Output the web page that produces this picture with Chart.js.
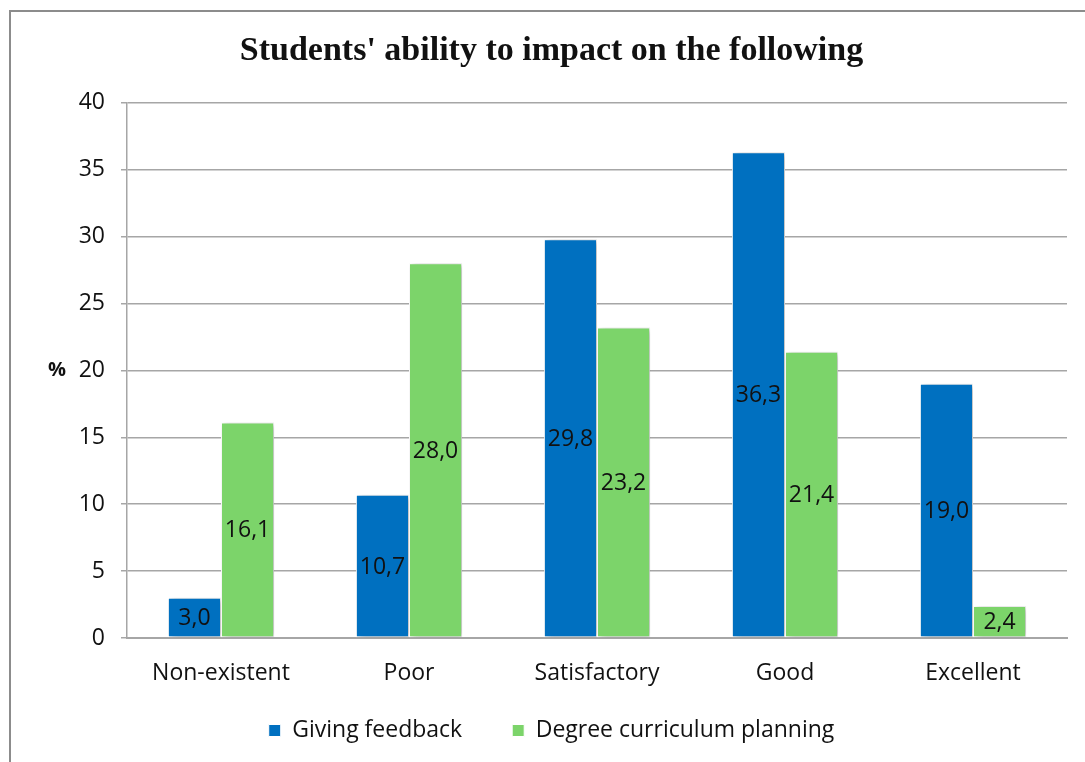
<!DOCTYPE html>
<html>
<head>
<meta charset="utf-8">
<script src="https://cdn.jsdelivr.net/npm/chart.js@4.4.1/dist/chart.umd.min.js"></script>
<style>
  html, body { margin: 0; padding: 0; background: #fff; overflow: hidden; }
  #wrap { position: relative; width: 1085px; height: 762px; overflow: hidden; }
  #frame { position: absolute; left: 9px; top: 10px; width: 1100px; height: 800px;
           border-left: 2px solid #8c8c8c; border-top: 2px solid #8c8c8c; }
  canvas { position: absolute; left: 0; top: 0; }
</style>
</head>
<body>
<div id="wrap">
  <div id="frame"></div>
  <canvas id="myChart" width="1085" height="762"></canvas>
</div>
<script>
// dados
const categorias = ['Non-existent', 'Poor', 'Satisfactory', 'Good', 'Excellent'];
const givingFeedback = [3.0, 10.7, 29.8, 36.3, 19.0];
const curriculumPlanning = [16.1, 28.0, 23.2, 21.4, 2.4];
const yTicks = [0, 5, 10, 15, 20, 25, 30, 35, 40];

const fonte = "'Open Sans', 'Liberation Sans', sans-serif";

// sombra nas barras
const sombra = {
    id: 'sombra',
    beforeDatasetsDraw(chart) {
        const c = chart.ctx;
        c.save();
        c.shadowColor = 'rgba(0,0,0,0.28)';
        c.shadowBlur = 6;
        c.shadowOffsetX = 3;
        c.shadowOffsetY = 1;
    },
    afterDatasetsDraw(chart) {
        chart.ctx.restore();
    }
};

// legenda sobe um pouco (o padding grande empurra ela pra baixo)
const ajusteLegenda = {
    id: 'ajusteLegenda',
    afterLayout(chart) {
        chart.legend.top -= 29;
        chart.legend.bottom -= 29;
    }
};

// rotulos dentro das barras
const rotulos = {
    id: 'rotulos',
    afterDatasetsDraw(chart) {
        const c = chart.ctx;
        c.save();
        c.font = '23px ' + fonte;
        c.fillStyle = '#111';
        c.textAlign = 'center';
        c.textBaseline = 'middle';
        chart.data.datasets.forEach((ds, i) => {
            chart.getDatasetMeta(i).data.forEach((bar, j) => {
                const txt = ds.data[j].toFixed(1).replace('.', ',');
                c.fillText(txt, bar.x, (bar.y + bar.base) / 2 + 1);
            });
        });
        // "%" do eixo
        const y = chart.scales.y;
        c.font = 'bold 20px ' + fonte;
        c.fillText('%', 57, y.getPixelForValue(20));
        c.restore();
    }
};

new Chart(document.getElementById('myChart'), {
    type: 'bar',
    data: {
        labels: categorias,
        datasets: [{
            label: 'Giving feedback',
            data: givingFeedback,
            backgroundColor: '#0070C0',
            borderColor: '#ffffff',
            borderWidth: 1,
            borderSkipped: false
        }, {
            label: 'Degree curriculum planning',
            data: curriculumPlanning,
            backgroundColor: '#7CD46A',
            borderColor: '#ffffff',
            borderWidth: 1,
            borderSkipped: false
        }]
    },
    options: {
        responsive: false,
        animation: false,
        devicePixelRatio: 1,
        categoryPercentage: 0.565,
        barPercentage: 1,
        layout: { padding: { left: 36, right: 18, top: 10, bottom: -19 } },
        plugins: {
            title: {
                display: true,
                text: "Students' ability to impact on the following",
                color: '#111',
                font: { family: "'Liberation Serif', serif", size: 34, weight: 'bold' },
                padding: { top: 21, bottom: 31 }
            },
            legend: {
                position: 'bottom',
                labels: {
                    color: '#111',
                    font: { family: fonte, size: 23 },
                    boxWidth: 12,
                    boxHeight: 12,
                    padding: 50
                }
            },
            tooltip: { enabled: false }
        },
        scales: {
            x: {
                grid: { display: false },
                border: { color: '#a6a6a6', width: 2 },
                ticks: { color: '#111', font: { family: fonte, size: 23 }, padding: 14 },
                afterFit(scale) { scale.height = 60; }
            },
            y: {
                min: 0,
                max: 40,
                afterBuildTicks(scale) { scale.ticks = yTicks.map(v => ({ value: v })); },
                grid: { color: '#a6a6a6', lineWidth: 1.5, tickLength: 6 },
                border: { color: '#a6a6a6', width: 1.5 },
                ticks: { color: '#111', font: { family: fonte, size: 23 }, padding: 16 },
                afterFit(scale) { scale.width = 91; }
            }
        }
    },
    plugins: [sombra, ajusteLegenda, rotulos]
});
</script>
</body>
</html>
